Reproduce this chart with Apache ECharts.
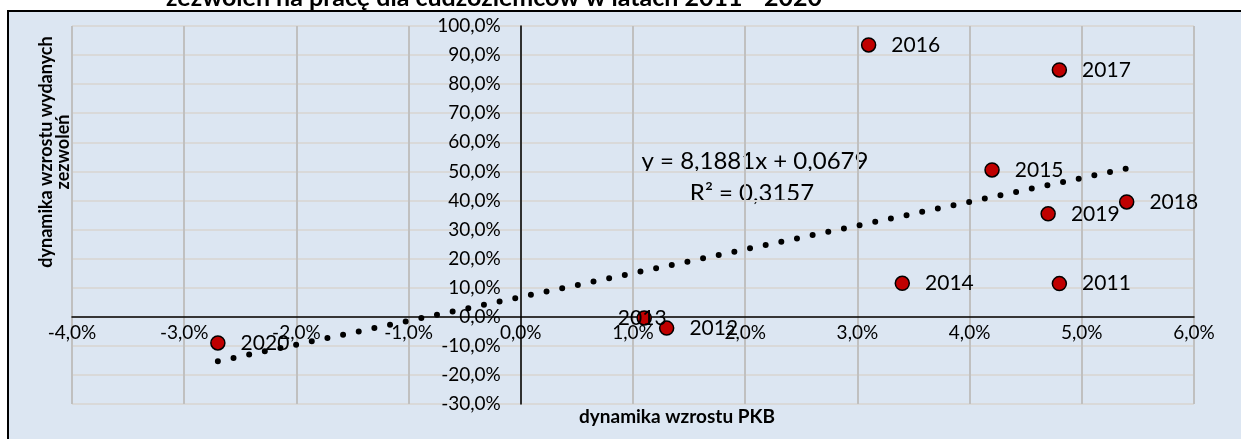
<!DOCTYPE html>
<html>
<head>
<meta charset="utf-8">
<script src="https://cdn.jsdelivr.net/npm/echarts@6/dist/echarts.min.js"></script>
<style>
  html, body { margin: 0; padding: 0; background: #fff; }
  .box {
    position: absolute; left: 7px; top: 10px; width: 1240px; height: 440px;
    background: #dce6f2; border: 2px solid #000;
  }
  .chart { position: absolute; left: 0; top: 0; width: 1241px; height: 439px; }
</style>
</head>
<body>
<div class="box"></div>
<div class="chart"></div>
<script>
// lata, dynamika PKB (%), dynamika wydanych zezwoleń (%)
const years = ['2011', '2012', '2013', '2014', '2015', '2016', '2017', '2018', '2019', '2020'];
const gdpGrowth = [4.8, 1.3, 1.1, 3.4, 4.2, 3.1, 4.8, 5.4, 4.7, -2.7];
const permitGrowth = [11.4, -3.9, -0.4, 11.5, 50.5, 93.5, 84.9, 39.5, 35.4, -9.0];

// linia trendu (końce)
const trendX = [-2.7, 5.4];
const trendY = [-15.3, 51.0];

const font = 'Lato, "Liberation Sans", sans-serif';
const pct = v => v.toFixed(1).replace('.', ',') + '%';

// osie przecinają się w zerze: przesuwamy je o odległość od krawędzi siatki
const grid = { left: 72, right: 47, top: 26, bottom: 35 };
const plotW = 1241 - grid.left - grid.right;
const plotH = 439 - grid.top - grid.bottom;
const xMin = -4, xMax = 6, yMin = -30, yMax = 100;
const yAxisOffset = -plotW * (0 - xMin) / (xMax - xMin);
const xAxisOffset = -plotH * (0 - yMin) / (yMax - yMin);

const dom = document.getElementsByClassName('chart')[0];
const chart = echarts.init(dom);

const points = years.map((y, i) => {
  const item = { value: [gdpGrowth[i], permitGrowth[i]], name: y };
  if (y === '2013') {
    item.label = { position: 'inside', offset: [-2, 0] };
  }
  return item;
});

chart.setOption({
  animation: false,
  textStyle: { fontFamily: font },
  grid: grid,
  xAxis: {
    type: 'value', min: xMin, max: xMax, interval: 1,
    offset: xAxisOffset,
    axisLine: { onZero: false, lineStyle: { color: '#000', width: 1.5 } },
    axisTick: { show: false },
    axisLabel: { formatter: pct, color: '#000', fontSize: 19, margin: 7, fontFamily: font },
    splitLine: { lineStyle: { color: '#c0c0c0', width: 2 } }
  },
  yAxis: {
    type: 'value', min: yMin, max: yMax, interval: 10,
    offset: yAxisOffset,
    axisLine: { onZero: false, lineStyle: { color: '#000', width: 1.5 } },
    axisTick: { show: false },
    axisLabel: { formatter: pct, color: '#000', fontSize: 19, margin: 20, fontFamily: font },
    splitLine: { lineStyle: { color: '#d9d9d9', width: 2 } }
  },
  series: [
    {
      type: 'line',
      data: trendX.map((x, i) => [x, trendY[i]]),
      symbol: 'none',
      z: 2,
      lineStyle: { color: '#000', width: 6, type: [0, 16], cap: 'round' }
    },
    {
      type: 'scatter',
      data: points,
      symbolSize: 14,
      z: 3,
      itemStyle: { color: '#c00000', borderColor: '#000', borderWidth: 1.5, opacity: 1 },
      label: {
        show: true, position: 'right', distance: 15,
        formatter: p => p.name, color: '#000', fontSize: 21, fontFamily: font
      }
    }
  ],
  graphic: [
    {
      type: 'text', x: 494, y: 10,
      style: {
        text: 'zezwoleń na pracę dla cudzoziemców w latach 2011 - 2020',
        font: 'bold 25px ' + font, fill: '#000', textAlign: 'center', textVerticalAlign: 'bottom'
      }
    },
    {
      type: 'text', x: 755, y: 161,
      style: {
        text: 'y = 8,1881x + 0,0679',
        font: '24px ' + font, fill: '#000', textAlign: 'center', textVerticalAlign: 'middle'
      }
    },
    {
      type: 'text', x: 752, y: 193,
      style: {
        text: 'R² = 0,3157',
        font: '24px ' + font, fill: '#000', textAlign: 'center', textVerticalAlign: 'middle'
      }
    },
    {
      type: 'text', x: 677, y: 417,
      style: {
        text: 'dynamika wzrostu PKB',
        font: 'bold 19px ' + font, fill: '#000', textAlign: 'center', textVerticalAlign: 'middle'
      }
    },
    {
      type: 'text', x: 55, y: 152, rotation: Math.PI / 2,
      style: {
        text: 'dynamika wzrostu wydanych\nzezwoleń',
        font: 'bold 18px ' + font, lineHeight: 17, fill: '#000', textAlign: 'center', textVerticalAlign: 'middle'
      }
    }
  ]
});

window.addEventListener('resize', chart.resize);
</script>
</body>
</html>
